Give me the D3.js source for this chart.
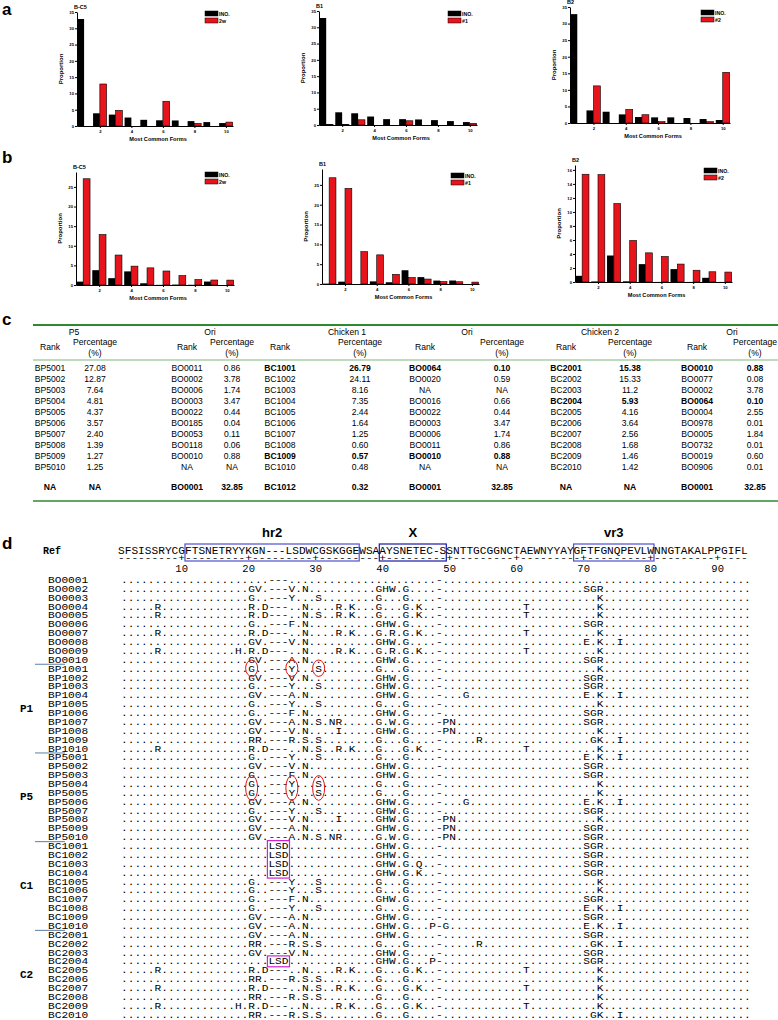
<!DOCTYPE html>
<html lang="en">
<head>
<meta charset="UTF-8" />
<title>Most common forms</title>
<script src="https://cdnjs.cloudflare.com/ajax/libs/d3/7.8.5/d3.min.js"></script>
<style>
  body { margin: 0; background: #fff; }
  svg text { font-family: "Liberation Sans", Arial, sans-serif; }
  .mono { font-family: "Liberation Mono", "Courier New", monospace !important; }
</style>
</head>
<body>
<div id="fig"></div>
<script>
// ---------- panel a / b data ----------
const forms = [1, 2, 3, 4, 5, 6, 7, 8, 9, 10];
const xTicks = [2, 4, 6, 8, 10];

const aInoBC5 = [32.85, 3.9, 3.5, 2.6, 1.9, 1.75, 1.7, 1.5, 1.2, 0.9];
const a2w     = [0, 12.9, 4.8, 0, 0, 7.6, 0, 0.8, 0, 1.2];
const aInoB1  = [32.85, 3.9, 3.6, 2.6, 1.8, 1.8, 1.7, 1.5, 1.2, 0.9];
const aN1     = [0.2, 0.2, 1.6, 0, 0, 1.3, 0, 0, 0, 0.5];
const aInoB2  = [32.85, 3.8, 3.4, 2.6, 1.8, 1.7, 1.7, 1.5, 1.2, 0.9];
const aN2     = [0, 11.2, 0, 4.1, 2.5, 0.4, 0, 0, 0.4, 15.3];

const bInoBC5 = [0.86, 3.78, 1.74, 3.47, 0.44, 0.04, 0.11, 0.06, 0.88, 0];
const b2w     = [27.08, 12.87, 7.64, 4.81, 4.37, 3.57, 2.40, 1.39, 1.27, 1.25];
const bInoB1  = [0.10, 0.59, 0, 0.66, 0.44, 3.47, 1.74, 0.86, 0.88, 0];
const bN1     = [26.79, 24.11, 8.16, 7.35, 2.44, 1.64, 1.25, 0.60, 0.57, 0.48];
const bInoB2  = [0.88, 0.08, 3.78, 0.10, 2.55, 0.01, 1.84, 0.01, 0.60, 0.01];
const bN2     = [15.38, 15.33, 11.2, 5.93, 4.16, 3.64, 2.56, 1.68, 1.46, 1.42];

const ticks35 = [0, 5, 10, 15, 20, 25, 30, 35];
const ticks25 = [0, 5, 10, 15, 20, 25];
const ticks16 = [0, 2, 4, 6, 8, 10, 12, 14, 16];

// ---------- panel c data ----------
const groupNames = ["P5", "Ori", "Chicken 1", "Ori", "Chicken 2", "Ori"];
const rankP5  = ["BP5001","BP5002","BP5003","BP5004","BP5005","BP5006","BP5007","BP5008","BP5009","BP5010","NA"];
const pctP5   = ["27.08","12.87","7.64","4.81","4.37","3.57","2.40","1.39","1.27","1.25","NA"];
const rankOri1 = ["BO0011","BO0002","BO0006","BO0003","BO0022","BO0185","BO0053","BO0118","BO0010","NA","BO0001"];
const pctOri1  = ["0.86","3.78","1.74","3.47","0.44","0.04","0.11","0.06","0.88","NA","32.85"];
const rankC1  = ["BC1001","BC1002","BC1003","BC1004","BC1005","BC1006","BC1007","BC1008","BC1009","BC1010","BC1012"];
const pctC1   = ["26.79","24.11","8.16","7.35","2.44","1.64","1.25","0.60","0.57","0.48","0.32"];
const rankOri2 = ["BO0064","BO0020","NA","BO0016","BO0022","BO0003","BO0006","BO0011","BO0010","NA","BO0001"];
const pctOri2  = ["0.10","0.59","NA","0.66","0.44","3.47","1.74","0.86","0.88","NA","32.85"];
const rankC2  = ["BC2001","BC2002","BC2003","BC2004","BC2005","BC2006","BC2007","BC2008","BC2009","BC2010","NA"];
const pctC2   = ["15.38","15.33","11.2","5.93","4.16","3.64","2.56","1.68","1.46","1.42","NA"];
const rankOri3 = ["BO0010","BO0077","BO0002","BO0064","BO0004","BO0978","BO0005","BO0732","BO0019","BO0906","BO0001"];
const pctOri3  = ["0.88","0.08","3.78","0.10","2.55","0.01","1.84","0.01","0.60","0.01","32.85"];
// bold cells: "row:group"
const boldCells = ["0:2", "0:3", "0:4", "0:5", "3:4", "3:5", "8:2", "8:3"];

// ---------- panel d data ----------
const refSeq = "SFSISSRYCGFTSNETRYYKGN---LSDWCGSKGGEWSAAYSNETEC-SSNTTGCGGNCTAEWNYYAYGFTFGNQPEVLWNNGTAKALPPGIFL";
const rulerTicks = [10, 20, 30, 40, 50, 60, 70, 80, 90];
const seqNames = [
  "BO0001","BO0002","BO0003","BO0004","BO0005","BO0006","BO0007","BO0008","BO0009","BO0010",
  "BP1001","BP1002","BP1003","BP1004","BP1005","BP1006","BP1007","BP1008","BP1009","BP1010",
  "BP5001","BP5002","BP5003","BP5004","BP5005","BP5006","BP5007","BP5008","BP5009","BP5010",
  "BC1001","BC1002","BC1003","BC1004","BC1005","BC1006","BC1007","BC1008","BC1009","BC1010",
  "BC2001","BC2002","BC2003","BC2004","BC2005","BC2006","BC2007","BC2008","BC2009","BC2010"
];
// substitutions: "<column><residues>" (column counted on the reference)
const seqSubs = [
  "",
  "20GV 26V 28N 39GHW 43G 70SGR",
  "20G 26Y 30S 39G 43G 72K",
  "6R 20R 22D 28N 33R 35K 39G 43G 45K 61T 72K",
  "6R 20R 22D 28N 30S 33R 35K 39G 43G 45K 61T 72K",
  "20G 26F 28N 39GHW 43G 70SGR",
  "6R 20R 22D 28N 33R 35K 39G 41R 43G 45K 61T 72K",
  "20GV 26V 28N 39GHW 43G 70E 72K 75I",
  "6R 18H 20R 22D 28N 33R 35K 39G 41R 43G 45K 61T 72K",
  "20GV 26A 28N 39GHW 43G 70SGR",
  "20G 26Y 30S 39G 43G 72K",
  "20GV 26V 28N 39GHW 43G 70SGR",
  "20G 26Y 30S 39GHW 43G 70SGR",
  "20GV 26A 28N 39GHW 43G 52G 70E 72K 75I",
  "20G 26Y 30S 39G 43G 72K",
  "20G 26F 28N 39GHW 43G 70SGR",
  "20GV 26A 28N 30S 32NR 39G 41W 43G 49PN 70SGR",
  "20GV 26V 28N 33I 39GHW 43G 49PN 72K",
  "20RR 26R 28S 30S 39G 43G 54R 71GK 75I",
  "6R 20R 22D 28N 30S 33R 35K 39G 43G 45K 61T 72K",
  "20G 26Y 30S 39G 43G 70E 72K 75I",
  "20GV 26V 28N 39GHW 43G 70SGR",
  "20G 26F 28N 39GHW 43G 70SGR",
  "20G 26Y 30S 39G 43G 72K",
  "20G 26Y 30S 39G 43G 72K",
  "20GV 26A 28N 39GHW 43G 52G 70E 72K 75I",
  "20G 26Y 30S 39GHW 43G 70SGR",
  "20GV 26V 28N 33I 39GHW 43G 49PN 72K",
  "20GV 26A 28N 39GHW 43G 49PN 70SGR",
  "20GV 26A 28N 30S 32NR 39G 41W 43G 49PN 70SGR",
  "23LSD 39GHW 43G 70SGR",
  "23LSD 39GHW 43G 70SGR",
  "23LSD 39GHW 43G 45Q 70SGR",
  "23LSD 39GHW 43G 45K 70SGR",
  "20G 26Y 30S 39G 43G 72K",
  "20G 26Y 30S 39G 43G 72K",
  "20G 26F 28N 39GHW 43G 70SGR",
  "20G 26Y 30S 39G 43G 70E 72K 75I",
  "20GV 26A 28N 39GHW 43G 70SGR",
  "20GV 26A 28N 39GHW 43G 47P 49G 70E 72K 75I",
  "20GV 26A 28N 39GHW 43G 70SGR",
  "20RR 26R 28S 30S 39G 43G 54R 71GK 75I",
  "20GV 26V 28N 39GHW 43G 70SGR",
  "23LSD 39GHW 43G 47P 70SGR",
  "6R 20R 22D 28N 33R 35K 39G 43G 45K 61T 72K",
  "20RR 26R 28S 30S 39G 43G 72K",
  "6R 20R 22D 28N 30S 33R 35K 39G 43G 45K 61T 72K",
  "20RR 26R 28S 30S 39G 43G 72K",
  "6R 18H 20R 22D 28N 33R 35K 39G 43G 45K 61T 72K",
  "20RR 26R 28S 30S 39G 43G 71GK 75I"
];
const groupLabels = [["P1", 14.5], ["P5", 24.5], ["C1", 34.5], ["C2", 44.5]];
const groupBreaks = [10, 20, 30, 40];
const regions = [["hr2", 11, 36], ["X", 40, 49], ["vr3", 69, 80]];
// red ellipses: [first row, rows spanned, column]
const circled = [[10, 1, 20], [10, 1, 26], [10, 1, 30], [23, 2, 20], [23, 2, 26], [23, 2, 30]];
// magenta boxes: [first row, rows spanned, first column, columns]
const boxed = [[30, 4, 23, 3], [43, 1, 23, 3]];

// ---------- drawing ----------
const W = 778, H = 1020;
const svg = d3.select("#fig").append("svg")
  .attr("width", W).attr("height", H)
  .attr("viewBox", [0, 0, W, H]);

svg.append("rect").attr("width", W).attr("height", H).attr("fill", "#fff");

const RED = "#e8141b";

function panelLetter(t, x, y) {
  svg.append("text").attr("x", x).attr("y", y).text(t)
    .attr("font-size", 17).attr("font-weight", "bold");
}

function barChart(c) {
  const g = svg.append("g");
  const x = d3.scaleLinear().domain([0.55, 10.45]).range([c.left, c.right]);
  const y = d3.scaleLinear().domain([0, c.ymax]).range([c.bottom, c.top]);
  const bw = x(0.55 + 0.43) - x(0.55);

  g.selectAll(".ino").data(forms).join("rect")
    .attr("x", d => x(d) - bw)
    .attr("y", (d, i) => y(c.ino[i]))
    .attr("width", bw)
    .attr("height", (d, i) => y(0) - y(c.ino[i]))
    .attr("fill", "#000");

  g.selectAll(".alt").data(forms).join("rect")
    .attr("x", d => x(d))
    .attr("y", (d, i) => y(c.alt[i]))
    .attr("width", bw)
    .attr("height", (d, i) => y(0) - y(c.alt[i]))
    .attr("fill", RED)
    .attr("stroke", (d, i) => c.alt[i] > 0 ? "#000" : "none")
    .attr("stroke-width", 0.6);

  const ya = g.append("g").attr("transform", `translate(${c.left},0)`)
    .call(d3.axisLeft(y).tickValues(c.yticks).tickSize(2).tickSizeOuter(0).tickPadding(1));
  ya.selectAll("text").attr("font-size", 4.2).attr("font-weight", "bold");

  const xa = g.append("g").attr("transform", `translate(0,${c.bottom})`)
    .call(d3.axisBottom(x).tickValues(xTicks).tickSize(2).tickSizeOuter(0).tickPadding(2));
  xa.selectAll("text").attr("font-size", 4.2).attr("font-weight", "bold");
  g.selectAll(".domain").attr("stroke-width", 1);

  g.append("text").attr("x", c.left - 3).attr("y", c.top - 3)
    .attr("font-size", 5.5).attr("font-weight", "bold").text(c.title);

  g.append("text")
    .attr("transform", `translate(${c.left - 14},${(c.top + c.bottom) / 2}) rotate(-90)`)
    .attr("text-anchor", "middle").attr("font-size", 6).attr("font-weight", "bold")
    .text("Proportion");

  g.append("text").attr("x", (c.left + c.right) / 2 + 3).attr("y", c.bottom + 15)
    .attr("text-anchor", "middle").attr("font-size", 5.6).attr("font-weight", "bold")
    .text("Most Common Forms");

  const leg = [["INO.", "#000"], [c.altName, RED]];
  leg.forEach((l, i) => {
    g.append("rect").attr("x", c.legX).attr("y", c.legY + i * 7)
      .attr("width", 13).attr("height", 5).attr("fill", l[1])
      .attr("stroke", "#000").attr("stroke-width", 0.5);
    g.append("text").attr("x", c.legX + 14).attr("y", c.legY + i * 7 + 4.6)
      .attr("font-size", 5.2).attr("font-weight", "bold").text(l[0]);
  });
}

panelLetter("a", 2, 15);
panelLetter("b", 2, 163);
panelLetter("c", 2, 325);
panelLetter("d", 2, 549);

const charts = [
  { title: "B-C5", ino: aInoBC5, alt: a2w, altName: "2w", left: 77, right: 233, top: 12, bottom: 126, ymax: 35, yticks: ticks35, legX: 205, legY: 11 },
  { title: "B1", ino: aInoB1, alt: aN1, altName: "#1", left: 319, right: 477, top: 11, bottom: 125, ymax: 35, yticks: ticks35, legX: 448, legY: 11 },
  { title: "B2", ino: aInoB2, alt: aN2, altName: "#2", left: 570, right: 730, top: 7, bottom: 123, ymax: 35, yticks: ticks35, legX: 701, legY: 10 },
  { title: "B-C5", ino: bInoBC5, alt: b2w, altName: "2w", left: 76, right: 234, top: 172, bottom: 285, ymax: 28.8, yticks: ticks25, legX: 205, legY: 172 },
  { title: "B1", ino: bInoB1, alt: bN1, altName: "#1", left: 322, right: 479, top: 169, bottom: 284, ymax: 29, yticks: ticks25, legX: 451, legY: 173 },
  { title: "B2", ino: bInoB2, alt: bN2, altName: "#2", left: 575, right: 732, top: 165, bottom: 282, ymax: 16.7, yticks: ticks16, legX: 704, legY: 168 }
];
charts.forEach(barChart);

// ---------- table ----------
(() => {
  const GREEN = "#2f8a2f";
  const g = svg.append("g");
  const rankX = [50, 187, 280, 425, 566, 697];
  const pctX = [95, 232, 360, 502, 630, 755];
  const groupX = [74, 210, 347, 467, 600, 732];
  const cols = [[rankP5, pctP5], [rankOri1, pctOri1], [rankC1, pctC1], [rankOri2, pctOri2], [rankC2, pctC2], [rankOri3, pctOri3]];
  const yTop = 325, yHead = 360, y0 = 371, dy = 11, yLast = 490, yBottom = 501;

  g.append("line").attr("x1", 33).attr("x2", 778).attr("y1", yTop).attr("y2", yTop)
    .attr("stroke", GREEN).attr("stroke-width", 2);
  g.append("line").attr("x1", 33).attr("x2", 778).attr("y1", yHead).attr("y2", yHead)
    .attr("stroke", "#7fb87f").attr("stroke-width", 1.2);
  g.append("line").attr("x1", 33).attr("x2", 778).attr("y1", yBottom).attr("y2", yBottom)
    .attr("stroke", GREEN).attr("stroke-width", 1.6);

  const fs = 8.6;
  groupNames.forEach((n, i) => {
    g.append("text").attr("x", groupX[i]).attr("y", yTop + 10).attr("text-anchor", "middle")
      .attr("font-size", fs).text(n);
    g.append("text").attr("x", rankX[i]).attr("y", yTop + 25).attr("text-anchor", "middle")
      .attr("font-size", fs).text("Rank");
    g.append("text").attr("x", pctX[i]).attr("y", yTop + 20).attr("text-anchor", "middle")
      .attr("font-size", fs).text("Percentage");
    g.append("text").attr("x", pctX[i]).attr("y", yTop + 31).attr("text-anchor", "middle")
      .attr("font-size", fs).text("(%)");
  });

  cols.forEach((pair, ci) => {
    pair[0].forEach((v, r) => {
      const yy = r < 10 ? y0 + r * dy : yLast;
      const bold = r === 10 || boldCells.includes(`${r}:${ci}`);
      g.append("text").attr("x", rankX[ci]).attr("y", yy).attr("text-anchor", "middle")
        .attr("font-size", fs).attr("font-weight", bold ? "bold" : null).text(v);
      g.append("text").attr("x", pctX[ci]).attr("y", yy).attr("text-anchor", "middle")
        .attr("font-size", fs).attr("font-weight", bold ? "bold" : null).text(pair[1][r]);
    });
  });
})();

// ---------- alignment ----------
(() => {
  const g = svg.append("g");
  const cw = 6.7, refX = 118, rowX = 121, fs = 9.6;
  const refY = 554, row0 = 583, rowDy = 8.87;
  const colX = (c, x0) => x0 + (c - 1) * cw;

  function buildRow(spec) {
    const s = refSeq.split("").map(ch => (ch === "-" ? "-" : "."));
    spec.split(" ").filter(Boolean).forEach(t => {
      const m = t.match(/^(\d+)(.+)$/);
      [...m[2]].forEach((ch, i) => { s[+m[1] - 1 + i] = ch; });
    });
    return s.join("");
  }

  function mono(x, y, str, size) {
    return g.append("text").attr("class", "mono").attr("x", x).attr("y", y)
      .attr("font-size", size || fs)
      .attr("textLength", str.length * cw).attr("lengthAdjust", "spacingAndGlyphs")
      .text(str);
  }

  // region boxes and labels
  regions.forEach(([name, a, b], i) => {
    g.append("rect").attr("x", colX(a, refX)).attr("y", refY - 10)
      .attr("width", (b - a + 1) * cw).attr("height", 17)
      .attr("fill", "none").attr("stroke", i === 1 ? "#1a1aa6" : "#4f4fd0").attr("stroke-width", 1.2);
    g.append("text").attr("x", colX(a, refX) + (b - a + 1) * cw / 2).attr("y", refY - 17)
      .attr("text-anchor", "middle").attr("font-size", 13).attr("font-weight", "bold").text(name);
  });

  g.append("text").attr("class", "mono").attr("x", 43).attr("y", refY)
    .attr("font-size", 10).attr("font-weight", "bold").text("Ref");
  mono(refX, refY, refSeq, 10.5);

  const ruler = refSeq.split("").map((ch, i) => ((i + 1) % 10 === 0 ? "+" : "-")).join("");
  mono(refX, refY + 7, ruler);
  rulerTicks.forEach(t => {
    g.append("text").attr("class", "mono").attr("x", colX(t, refX) + cw / 2).attr("y", refY + 18)
      .attr("text-anchor", "middle").attr("font-size", 10.5).text(t);
  });

  seqNames.forEach((n, i) => {
    const yy = row0 + i * rowDy;
    mono(48, yy, n);
    mono(rowX, yy, buildRow(seqSubs[i]));
  });

  groupBreaks.forEach(r => {
    const yy = row0 + (r - 0.5) * rowDy - 3;
    g.append("line").attr("x1", 35).attr("x2", 65).attr("y1", yy).attr("y2", yy)
      .attr("stroke", "#5a7fa8").attr("stroke-width", 1);
  });
  groupLabels.forEach(([t, r]) => {
    g.append("text").attr("class", "mono").attr("x", 20).attr("y", row0 + r * rowDy)
      .attr("font-size", 11).attr("font-weight", "bold").text(t);
  });

  circled.forEach(([r, n, c]) => {
    g.append("ellipse")
      .attr("cx", colX(c, rowX) + cw / 2)
      .attr("cy", row0 + (r + (n - 1) / 2) * rowDy - 3.5)
      .attr("rx", 6).attr("ry", 4 + n * 4.2)
      .attr("fill", "none").attr("stroke", "#e01010").attr("stroke-width", 1);
  });
  boxed.forEach(([r, n, c, k]) => {
    g.append("rect")
      .attr("x", colX(c, rowX) - 1).attr("y", row0 + r * rowDy - 8.5)
      .attr("width", k * cw + 2).attr("height", n * rowDy + 2)
      .attr("fill", "none").attr("stroke", "#d21fd2").attr("stroke-width", 1.2);
  });
})();
</script>
</body>
</html>
